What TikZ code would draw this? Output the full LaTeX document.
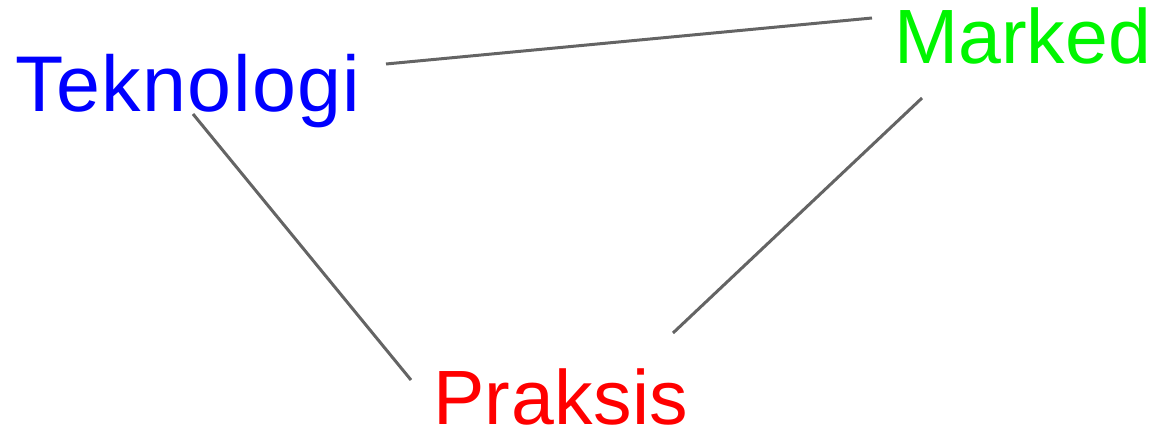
\documentclass[tikz,border=0pt]{standalone}
\usepackage{fontspec}
\setmainfont{Liberation Sans}
\definecolor{tekblue}{RGB}{0,0,255}
\definecolor{markgreen}{RGB}{0,245,0}
\definecolor{praxred}{RGB}{255,0,0}
\definecolor{linegray}{RGB}{100,100,100}
\begin{document}
\begin{tikzpicture}[x=1pt,y=-1pt,
  label/.style={anchor=base west,inner sep=0pt},
  link/.style={draw=linegray,line width=3pt}]
\useasboundingbox (0,0) rectangle (1158,433);
\node[label,text=tekblue,font=\fontsize{79}{82}\selectfont\addfontfeatures{LetterSpace=1.8}] (tek) at (15,111) {Teknologi};
\node[label,text=markgreen,font=\fontsize{77}{80}\selectfont] (mark) at (894,64) {Marked};
\node[label,text=praxred,font=\fontsize{77}{80}\selectfont\addfontfeatures{LetterSpace=0.6}] (prax) at (433,424) {Praksis};
\coordinate (t1) at (386,64);
\coordinate (m1) at (872,18);
\coordinate (m2) at (922,98);
\coordinate (p2) at (673,333);
\coordinate (t3) at (193,114);
\coordinate (p3) at (411,380);
\draw[link] (t1) -- (m1);
\draw[link] (m2) -- (p2);
\draw[link] (t3) -- (p3);
\end{tikzpicture}
\end{document}
